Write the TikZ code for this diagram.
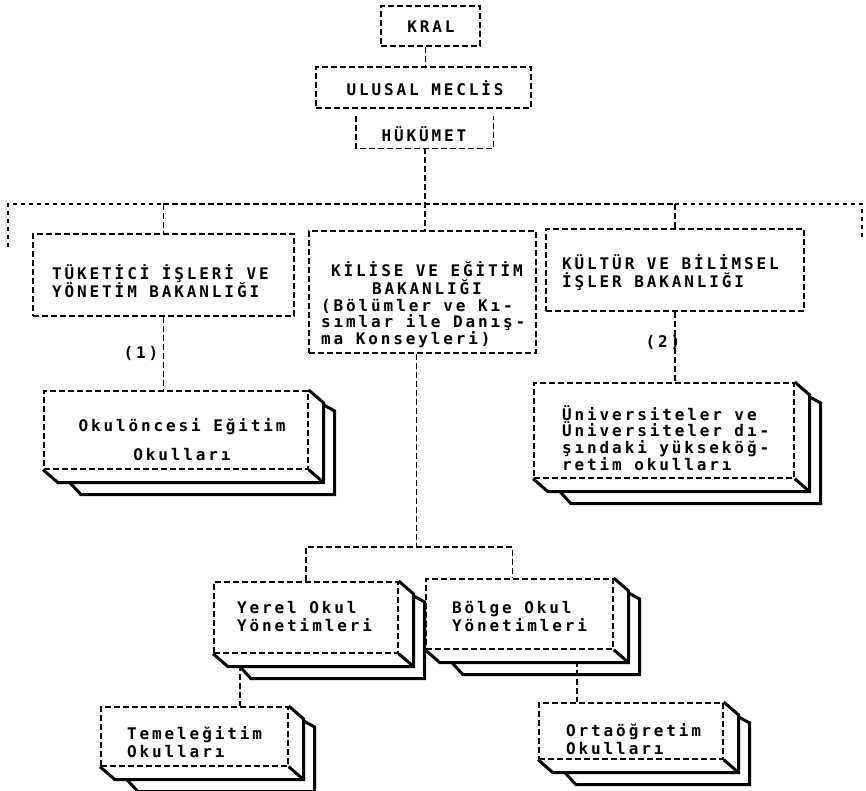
\documentclass[tikz,border=0pt]{standalone}
\usepackage{fontspec}
\newfontfamily\dotfont[LetterSpace=18, UprightFont={* Bold}, BoldFont={* Bold}]{DejaVu Sans Mono}
\usetikzlibrary{calc}
\tikzset{
  dline/.style={line width=1.7pt, dash pattern=on 6pt off 3pt},
  dotseg/.style={line width=2.4pt, dash pattern=on 4pt off 4pt},
  dbox/.style={dline, draw, inner sep=0pt, anchor=north west},
  slab/.style={line width=3pt, line join=miter},
  conn/.style={dline},
  txt/.style={font={\dotfont\fontsize{16}{18}\selectfont}, inner sep=0pt, align=left, anchor=west},
  ctxt/.style={txt, align=center, anchor=center},
}
\newcommand\threedbox[1]{%
  \draw[slab] (#1.south west) -- ++(15,13) -- ($(#1.south east)+(15,13)$) -- ($(#1.north east)+(15,13)$) -- (#1.north east);
  \draw[slab] (#1.south east) -- ++(15,13);
  \draw[slab] ($(#1.south west)+(27,13)$) -- ++(11,12) -- ($(#1.south east)+(26,25)$) -- ($(#1.north east)+(26,21)$) -- ($(#1.north east)+(15,15)$);
}
\begin{document}
\begin{tikzpicture}[x=1pt,y=-1pt]
\fill[white] (0,0) rectangle (866,790);
\useasboundingbox (0,0) rectangle (866,790);

% plain boxes
\node[dbox, minimum width=99pt, minimum height=40pt] (kral) at (380,5) {};
\node[dbox, minimum width=215pt, minimum height=41pt] (ulusal) at (315,66) {};
\node[inner sep=0pt, anchor=north west, minimum width=137pt, minimum height=32pt] (hukumet) at (356,116) {};
\draw[dline] (hukumet.north west) -- (hukumet.south west) -- (hukumet.south east) -- (hukumet.north east);
\node[dbox, minimum width=261pt, minimum height=82pt] (tuketici) at (32,233) {};
\node[dbox, minimum width=227pt, minimum height=122pt] (kilise) at (308,230) {};
\node[dbox, minimum width=258pt, minimum height=82pt] (kultur) at (545,228) {};

% 3D boxes
\node[dbox, minimum width=264pt, minimum height=78pt] (okul) at (43,390) {};
\node[dbox, minimum width=260pt, minimum height=95pt] (univ) at (533,382) {};
\node[dbox, minimum width=184pt, minimum height=71pt] (yerel) at (213,581) {};
\node[dbox, minimum width=187pt, minimum height=70pt] (bolge) at (425,578) {};
\node[dbox, minimum width=187pt, minimum height=59pt] (temel) at (100,706) {};
\node[dbox, minimum width=184pt, minimum height=56pt] (orta) at (538,702) {};
\threedbox{okul}
\threedbox{univ}
\threedbox{yerel}
\threedbox{bolge}
\threedbox{temel}
\threedbox{orta}

% texts
\node[ctxt] (tkral) at (431,27) {KRAL};
\node[ctxt] (tulusal) at (425,88) {ULUSAL MECLİS};
\node[ctxt] (thuk) at (424,134) {HÜKÜMET};
\node[txt] (ttuk) at (52,281) {TÜKETİCİ İŞLERİ VE\\YÖNETİM BAKANLIĞI};
\node[ctxt] (tkil1) at (427,278) {KİLİSE VE EĞİTİM\\BAKANLIĞI};
\node[txt, font={\dotfont\fontsize{16}{16.5}\selectfont}] (tkil2) at (321,323) {(Bölümler ve Kı-\\sımlar ile Danış-\\ma Konseyleri)};
\node[txt] (tkul) at (562,273) {KÜLTÜR VE BİLİMSEL\\İŞLER BAKANLIĞI};
\node[ctxt] (tokul) at (182,440) {Okulöncesi Eğitim\\[11pt]Okulları};
\node[txt, font={\dotfont\fontsize{16}{16.7}\selectfont}] (tuniv) at (562,438) {Üniversiteler ve\\Üniversiteler dı-\\şındaki yükseköğ-\\retim okulları};
\node[txt] (tyerel) at (237,617) {Yerel Okul\\Yönetimleri};
\node[txt] (tbolge) at (452,617) {Bölge Okul\\Yönetimleri};
\node[txt] (ttemel) at (127,742) {Temeleğitim\\Okulları};
\node[txt] (torta) at (566,739) {Ortaöğretim\\Okulları};
\node[ctxt] (l1) at (141,353) {(1)};
\node[ctxt] (l2) at (663,342) {(2)};

% connectors
\coordinate (k1) at ([xshift=-5pt]kral.south);
\draw[conn] (k1) -- (k1 |- ulusal.north);
\coordinate (barL) at (8,204);
\coordinate (barR) at (862,204);
\coordinate (barLd) at (8,247);
\coordinate (barRd) at (862,237);
\draw[conn] (hukumet.south) -- (hukumet.south |- kilise.north);
\draw[conn] (tuketici.north |- barL) -- (kultur.north |- barR);
\draw[dotseg] (barLd) -- (barL) -- (tuketici.north |- barL);
\draw[dotseg] (kultur.north |- barR) -- (barR) -- (barRd);
\draw[conn] (tuketici.north |- barL) -- (tuketici.north);
\draw[conn] (kultur.north |- barR) -- (kultur.north);
\draw[conn] (tuketici.south) -- (tuketici.south |- okul.north);
\draw[conn] (kultur.south) -- (kultur.south |- univ.north);
\coordinate (kd) at ([xshift=-6pt]kilise.south);
\coordinate (brk) at (415,547);
\draw[conn] (kd) -- (kd |- brk);
\coordinate (bn) at ([xshift=-7pt]bolge.north);
\draw[conn] (yerel.north) |- (brk) -| (bn);
\coordinate (yT) at (240,665);
\draw[conn] (yT) -- (yT |- temel.north);
\coordinate (bO) at (577,661);
\draw[conn] (bO) -- (bO |- orta.north);
\end{tikzpicture}
\end{document}
